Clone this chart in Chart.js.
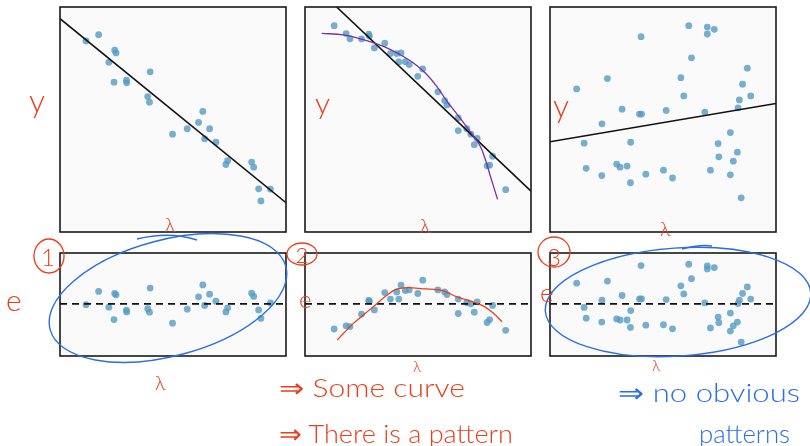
<!DOCTYPE html>
<html>
<head>
<meta charset="utf-8">
<script src="https://cdn.jsdelivr.net/npm/chart.js@4.4.1/dist/chart.umd.min.js"></script>
<style>
  body { margin: 0; background: #fff; }
  #page { position: relative; width: 810px; height: 446px; overflow: hidden; }
  #page canvas { position: absolute; }
  #notes { position: absolute; left: 0; top: 0; }
  #notes text { font-family: Lato, "Open Sans", sans-serif; font-weight: 300; }
</style>
</head>
<body>
<div id="page">
  <canvas id="top1"></canvas>
  <canvas id="top2"></canvas>
  <canvas id="top3"></canvas>
  <canvas id="res1"></canvas>
  <canvas id="res2"></canvas>
  <canvas id="res3"></canvas>
  <svg id="notes" width="810" height="446"></svg>
</div>
<script>
// Panel 1 - linear, residuals scattered
const p1X = [1.15, 1.71, 2.16, 2.39, 2.42, 2.48, 2.94, 2.95, 3.88, 3.96, 3.99, 4.98, 5.63, 6.13, 6.32, 6.40, 6.62, 6.90, 7.34, 7.42, 8.48, 8.57, 8.79, 8.89, 9.31];
const p1Y = [8.49, 8.77, 7.54, 6.66, 8.08, 7.96, 6.75, 6.63, 6.02, 5.77, 7.12, 4.35, 4.59, 4.87, 5.36, 4.14, 4.59, 3.99, 3.00, 3.17, 3.11, 2.88, 1.92, 1.38, 1.91];
const p1E = [-0.04, 0.55, -0.15, -0.70, 0.46, 0.40, -0.28, -0.36, -0.22, -0.37, 0.70, -0.86, -0.24, 0.31, 0.84, -0.07, 0.43, 0.12, -0.36, -0.18, 0.47, 0.33, -0.27, -0.65, 0.04];
const fit1X = [0, 10];
const fit1Y = [9.48, 1.30];

// Panel 2 - curved data
const p2X = [1.29, 1.82, 1.99, 2.50, 2.82, 2.85, 3.07, 3.53, 3.78, 4.06, 4.15, 4.25, 4.44, 4.61, 4.99, 5.21, 5.88, 6.18, 6.28, 6.78, 6.78, 7.16, 7.34, 7.49, 7.62, 8.06, 8.17, 8.30, 8.88];
const p2Y = [9.17, 8.82, 8.59, 8.58, 8.79, 8.71, 8.18, 8.39, 7.93, 7.93, 7.56, 7.96, 7.57, 7.44, 6.92, 7.25, 6.23, 5.84, 5.65, 5.07, 4.51, 4.59, 4.35, 3.88, 4.16, 2.94, 2.97, 3.37, 1.88];
const p2E = [-1.12, -0.98, -1.01, -0.46, 0.15, 0.12, -0.27, 0.50, 0.21, 0.53, 0.21, 0.83, 0.59, 0.62, 0.46, 1.05, 0.62, 0.53, 0.41, 0.21, -0.43, 0.06, 0.00, -0.37, 0.09, -0.83, -0.70, -0.07, -1.18];
const fit2X = [1.40, 10];
const fit2Y = [10, 1.82];
// hand drawn curves
const curve2X = [0.74, 1.70, 2.58, 3.18, 3.69, 4.21, 4.80, 5.39, 5.91, 6.28, 6.57, 7.02, 7.46, 7.75, 7.98, 8.20, 8.52];
const curve2Y = [8.83, 8.76, 8.55, 8.36, 8.15, 7.88, 7.51, 7.00, 6.36, 5.81, 5.44, 4.85, 4.26, 3.82, 3.22, 2.49, 1.45];
const bendX = [1.43, 1.70, 2.14, 2.58, 3.10, 3.62, 4.06, 4.58, 5.10, 5.69, 6.13, 6.72, 7.31, 7.90, 8.35, 8.72];
const bendE = [-1.61, -1.32, -0.87, -0.50, -0.06, 0.38, 0.65, 0.72, 0.68, 0.64, 0.58, 0.31, 0.13, -0.10, -0.43, -0.80];

// Panel 3 - no relation
const p3X = [1.18, 1.51, 1.60, 2.29, 2.30, 2.54, 2.95, 3.10, 3.19, 3.41, 3.56, 3.57, 3.96, 4.03, 4.05, 4.24, 5.02, 5.14, 5.42, 5.79, 5.92, 6.14, 6.26, 6.85, 6.96, 6.96, 7.10, 7.27, 7.44, 7.47, 7.98, 7.98, 8.11, 8.29, 8.32, 8.38, 8.46, 8.52, 8.73, 8.88];
const p3Y = [6.36, 3.95, 2.83, 2.51, 4.81, 6.82, 3.02, 2.88, 5.46, 2.93, 2.19, 3.99, 5.24, 8.68, 5.24, 2.57, 2.75, 5.40, 2.40, 6.86, 6.05, 9.17, 7.74, 5.33, 9.11, 8.80, 2.75, 9.01, 3.93, 3.34, 4.42, 2.54, 3.15, 3.55, 5.52, 5.87, 1.52, 6.57, 7.28, 6.05];
const p3E = [0.92, -0.16, -0.64, -0.81, 0.16, 1.01, -0.67, -0.72, 0.37, -0.72, -1.05, -0.30, 0.22, 1.70, 0.22, -0.95, -0.93, 0.19, -1.11, 0.80, 0.44, 1.76, 1.12, 0.04, 1.69, 1.55, -1.07, 1.61, -0.59, -0.84, -0.41, -1.21, -0.98, -0.81, 0.01, 0.16, -1.70, 0.46, 0.75, 0.21];
const fit3X = [0, 10];
const fit3Y = [4.01, 5.71];

const zeroX = [0, 10];
const zeroE = [0, 0];

const RED = "#e8401e";
const BLUE = "#2a6fe0";
const DOT = "rgba(84,155,196,0.8)";

function pts(xs, ys) {
    return xs.map((x, i) => ({ x: x, y: ys[i] }));
}

// box + light fill around the plot area
const framePlugin = {
    id: "frame",
    beforeDraw(chart) {
        const a = chart.chartArea;
        const ctx = chart.ctx;
        ctx.save();
        ctx.fillStyle = "#fafafa";
        ctx.fillRect(a.left, a.top, a.right - a.left, a.bottom - a.top);
        ctx.restore();
    },
    afterDraw(chart) {
        const a = chart.chartArea;
        const ctx = chart.ctx;
        ctx.save();
        ctx.strokeStyle = "#1a1a1a";
        ctx.lineWidth = 1.6;
        ctx.strokeRect(a.left, a.top, a.right - a.left, a.bottom - a.top);
        ctx.restore();
    }
};

function lineSet(xs, ys, color, width, dash, tension) {
    return {
        data: pts(xs, ys),
        showLine: true,
        borderColor: color,
        borderWidth: width,
        borderDash: dash || [],
        tension: tension || 0,
        pointRadius: 0
    };
}

function dotSet(xs, ys) {
    return {
        data: pts(xs, ys),
        backgroundColor: DOT,
        borderWidth: 0,
        pointRadius: 3.4
    };
}

function makePanel(id, box, yMin, yMax, datasets) {
    const pad = 4;
    const canvas = document.getElementById(id);
    canvas.width = box.w + pad * 2;
    canvas.height = box.h + pad * 2;
    canvas.style.left = (box.l - pad) + "px";
    canvas.style.top = (box.t - pad) + "px";
    return new Chart(canvas.getContext("2d"), {
        type: "scatter",
        data: { datasets: datasets },
        options: {
            responsive: false,
            animation: false,
            layout: { padding: pad },
            plugins: { legend: { display: false }, tooltip: { enabled: false } },
            scales: {
                x: { type: "linear", display: false, min: 0, max: 10 },
                y: { type: "linear", display: false, min: yMin, max: yMax }
            }
        },
        plugins: [framePlugin]
    });
}

const TOP_T = 7, TOP_H = 225, RES_T = 253, RES_H = 103, W = 226;
const lefts = [60, 305, 550];

makePanel("top1", { l: lefts[0], t: TOP_T, w: W, h: TOP_H }, 0, 10, [
    lineSet(fit1X, fit1Y, "#111", 1.6),
    dotSet(p1X, p1Y)
]);
makePanel("top2", { l: lefts[1], t: TOP_T, w: W, h: TOP_H }, 0, 10, [
    lineSet(curve2X, curve2Y, "#7b2fa8", 1.3, null, 0.4),
    lineSet(fit2X, fit2Y, "#111", 1.6),
    dotSet(p2X, p2Y)
]);
makePanel("top3", { l: lefts[2], t: TOP_T, w: W, h: TOP_H }, 0, 10, [
    lineSet(fit3X, fit3Y, "#111", 1.6),
    dotSet(p3X, p3Y)
]);
makePanel("res1", { l: lefts[0], t: RES_T, w: W, h: RES_H }, -2.32, 2.26, [
    lineSet(zeroX, zeroE, "#111", 1.6, [7, 5]),
    dotSet(p1X, p1E)
]);
makePanel("res2", { l: lefts[1], t: RES_T, w: W, h: RES_H }, -2.32, 2.26, [
    lineSet(bendX, bendE, RED, 1.3, null, 0.4),
    lineSet(zeroX, zeroE, "#111", 1.6, [7, 5]),
    dotSet(p2X, p2E)
]);
makePanel("res3", { l: lefts[2], t: RES_T, w: W, h: RES_H }, -2.32, 2.26, [
    lineSet(zeroX, zeroE, "#111", 1.6, [7, 5]),
    dotSet(p3X, p3E)
]);

// handwritten notes on top
const svg = document.getElementById("notes");
const NS = "http://www.w3.org/2000/svg";

function addText(str, x, y, size, color, opts) {
    const t = document.createElementNS(NS, "text");
    t.setAttribute("x", x);
    t.setAttribute("y", y);
    t.setAttribute("font-size", size);
    t.setAttribute("fill", color);
    if (opts && opts.anchor) t.setAttribute("text-anchor", opts.anchor);
    if (opts && opts.len) {
        t.setAttribute("textLength", opts.len);
        t.setAttribute("lengthAdjust", "spacingAndGlyphs");
    }
    t.textContent = str;
    svg.appendChild(t);
}

function addShape(tag, attrs) {
    const el = document.createElementNS(NS, tag);
    for (const k in attrs) el.setAttribute(k, attrs[k]);
    el.setAttribute("fill", "none");
    svg.appendChild(el);
}

// blue ellipses around the random residuals
addShape("ellipse", { cx: 168, cy: 298, rx: 122, ry: 58, transform: "rotate(-15 168 298)", stroke: BLUE, "stroke-width": 1.4 });
addShape("path", { d: "M137,239 Q170,231 197,240", stroke: BLUE, "stroke-width": 1.4 });
addShape("ellipse", { cx: 678, cy: 302, rx: 133, ry: 54, transform: "rotate(-4 678 302)", stroke: BLUE, "stroke-width": 1.4 });
addShape("path", { d: "M682,249 Q700,244 712,246", stroke: BLUE, "stroke-width": 1.4 });

// circled numbers
addShape("ellipse", { cx: 49, cy: 256, rx: 15, ry: 17, stroke: RED, "stroke-width": 1.3 });
addShape("ellipse", { cx: 302, cy: 254, rx: 15, ry: 11, stroke: RED, "stroke-width": 1.3 });
addShape("ellipse", { cx: 554, cy: 252, rx: 16, ry: 15, stroke: RED, "stroke-width": 1.3 });
addText("1", 48, 266, 24, RED, { anchor: "middle" });
addText("2", 302, 263, 22, RED, { anchor: "middle" });
addText("3", 554, 266, 24, RED, { anchor: "middle" });

// axis letters
addText("y", 29, 112, 32, RED);
addText("y", 315, 114, 30, RED);
addText("y", 553, 117, 32, RED);
addText("λ", 165, 232, 20, RED);
addText("λ", 420, 233, 20, RED);
addText("λ", 660, 236, 20, RED);
addText("e", 6, 311, 30, RED);
addText("e", 299, 308, 24, RED);
addText("e", 540, 302, 26, RED);
addText("λ", 155, 390, 20, RED);
addText("λ", 413, 372, 16, RED);
addText("λ", 652, 371, 16, RED);

// conclusions
addText("⇒ Some curve", 279, 397, 26, RED, { len: 186 });
addText("⇒ There is a pattern", 279, 443, 26, RED, { len: 234 });
addText("⇒ no obvious", 618, 402, 26, BLUE, { len: 182 });
addText("patterns", 699, 443, 26, BLUE, { len: 91 });
</script>
</body>
</html>
